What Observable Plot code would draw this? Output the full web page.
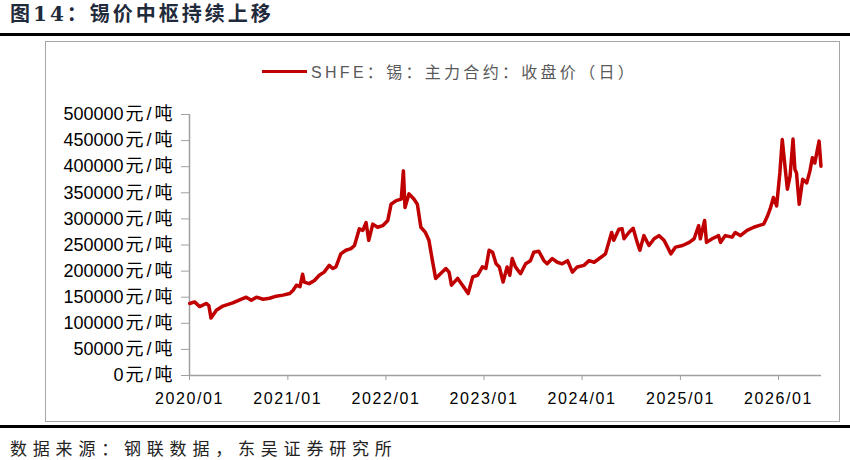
<!DOCTYPE html>
<html><head><meta charset="utf-8">
<script src="https://cdn.jsdelivr.net/npm/d3@7"></script>
<script src="https://cdn.jsdelivr.net/npm/@observablehq/plot@0.6"></script>
<style>
body{margin:0;background:#fff;}
#wrap{position:relative;width:850px;height:460px;overflow:hidden;font-family:"Liberation Sans","Noto Sans CJK SC",sans-serif;}
#title{position:absolute;left:10px;top:4px;font-size:20px;line-height:20px;font-weight:bold;font-family:"DejaVu Serif","Noto Sans CJK SC",serif;color:#1f2a3a;letter-spacing:3px;}
#rule1{position:absolute;left:0;top:33px;width:850px;height:3px;background:#000;}
#box{position:absolute;left:45px;top:41px;width:795px;height:381px;border:1.5px solid #a6a6a6;box-sizing:border-box;}
#rule2{position:absolute;left:0;top:425px;width:850px;height:3px;background:#000;}
#source{position:absolute;left:10px;top:439px;font-size:17px;line-height:17px;letter-spacing:5.8px;color:#222;font-family:"Noto Sans CJK SC",sans-serif;}
#legend{position:absolute;left:262px;top:60px;height:22px;display:flex;align-items:center;}
#legend .sw{width:45px;height:3px;background:#c00000;margin-right:4px;}
#legend .tx{font-size:16px;color:#595959;letter-spacing:3.3px;font-family:"Liberation Sans","Noto Sans CJK SC",sans-serif;}
#chart{position:absolute;left:0;top:0;}
g[aria-label="x-axis tick label"] text{letter-spacing:1.6px;}
</style></head>
<body>
<div id="wrap">
  <div id="title">图14：锡价中枢持续上移</div>
  <div id="rule1"></div>
  <div id="box"></div>
  <div id="legend"><div class="sw"></div><div class="tx">SHFE：锡：主力合约：收盘价（日）</div></div>
  <div id="chart"></div>
  <div id="rule2"></div>
  <div id="source">数据来源：钢联数据，东吴证券研究所</div>
</div>
<script>
const dates = [
"2020-01-02","2020-01-20","2020-02-08","2020-03-03","2020-03-13","2020-03-21","2020-04-10","2020-05-04","2020-06-10","2020-07-30",
"2020-08-18","2020-09-06","2020-10-01","2020-10-25","2020-11-19","2020-12-14","2021-01-08","2021-01-20","2021-02-02","2021-02-15",
"2021-02-25","2021-03-03","2021-03-21","2021-04-10","2021-04-28","2021-05-16","2021-06-04","2021-06-17","2021-06-29","2021-07-17",
"2021-08-05","2021-08-24","2021-09-06","2021-09-24","2021-10-07","2021-10-19","2021-10-29","2021-11-13","2021-12-01","2021-12-20",
"2022-01-08","2022-01-20","2022-02-08","2022-02-27","2022-03-07","2022-03-13","2022-03-28","2022-04-15","2022-04-28","2022-05-11",
"2022-05-28","2022-06-10","2022-06-23","2022-07-05","2022-07-23","2022-08-12","2022-08-24","2022-09-02","2022-09-25","2022-10-13",
"2022-11-03","2022-11-20","2022-12-08","2022-12-26","2023-01-08","2023-01-20","2023-02-02","2023-02-15","2023-02-27","2023-03-13",
"2023-03-28","2023-04-07","2023-04-16","2023-04-28","2023-05-17","2023-06-05","2023-06-23","2023-07-05","2023-07-24","2023-08-12",
"2023-08-24","2023-09-12","2023-10-01","2023-10-19","2023-11-08","2023-11-26","2023-12-14","2024-01-08","2024-01-27","2024-02-15",
"2024-03-10","2024-03-28","2024-04-20","2024-04-28","2024-05-17","2024-05-29","2024-06-05","2024-06-23","2024-07-09","2024-07-24",
"2024-08-03","2024-08-18","2024-09-06","2024-09-25","2024-10-13","2024-11-01","2024-11-14","2024-11-26","2024-12-14","2025-01-09",
"2025-02-03","2025-02-21","2025-03-10","2025-03-16","2025-04-01","2025-04-08","2025-04-29","2025-05-23","2025-05-30","2025-06-17",
"2025-07-12","2025-07-24","2025-08-12","2025-09-06","2025-10-01","2025-10-19","2025-11-07","2025-11-19","2025-12-01","2025-12-13",
"2025-12-25","2026-01-06","2026-01-15","2026-01-25","2026-02-03","2026-02-13","2026-02-24","2026-03-03","2026-03-09","2026-03-19",
"2026-04-01","2026-04-16","2026-04-28","2026-05-07","2026-05-16","2026-06-01","2026-06-08"
];
const prices = [
138000,141000,132000,138000,134000,110000,125000,133000,139000,150000,
144000,150000,146000,148000,152000,154000,157000,163000,173000,170000,
194000,179000,176000,182000,192000,198000,211000,205000,208000,233000,
240000,243000,249000,281000,278000,293000,259000,290000,284000,287000,
297000,328000,335000,338000,392000,322000,348000,338000,328000,284000,
274000,259000,220000,186000,195000,205000,198000,173000,186000,173000,
157000,189000,192000,208000,205000,240000,236000,214000,208000,179000,
208000,192000,224000,208000,195000,214000,220000,236000,238000,220000,
214000,224000,217000,214000,220000,198000,208000,211000,220000,217000,
226000,233000,274000,259000,280000,281000,262000,274000,282000,255000,
240000,268000,249000,262000,268000,259000,246000,233000,246000,249000,
255000,262000,287000,262000,297000,255000,262000,268000,255000,268000,
265000,274000,268000,278000,284000,287000,290000,303000,319000,341000,
325000,388000,452000,401000,357000,382000,453000,395000,388000,328000,
376000,369000,392000,417000,407000,449000,401000
];
const yTicks = [0,50000,100000,150000,200000,250000,300000,350000,400000,450000,500000];
const xTicks = ["2020-01-01","2021-01-01","2022-01-01","2023-01-01","2024-01-01","2025-01-01","2026-01-01"];
const xDomain = ["2020-01-01","2026-06-10"];
const yUnit = "元/吨";

const data = dates.map((d, i) => ({date: new Date(d), price: prices[i]}));
const x0 = new Date(xDomain[0]);

const chart = Plot.plot({
  width: 850, height: 460,
  marginLeft: 189, marginRight: 29, marginTop: 114, marginBottom: 85,
  style: {background: "transparent", color: "#000", fontSize: "16px", fontFamily: "'Liberation Sans','Noto Sans CJK SC',sans-serif"},
  x: {type: "utc", domain: xDomain.map(d => new Date(d))},
  y: {domain: [0, 500000]},
  marks: [
    Plot.axisY({ticks: yTicks, tickFormat: d => d + yUnit, tickSize: 8, tickPadding: 6, fontSize: 18, stroke: "#a0a0a0", fill: "#000", label: null}),
    Plot.axisX({ticks: xTicks.map(d => new Date(d)), tickFormat: d3.utcFormat("%Y/%m"), tickSize: 5, tickPadding: 12, fontSize: 16, stroke: "#a0a0a0", fill: "#000", label: null}),
    Plot.ruleX([x0], {stroke: "#a0a0a0", strokeWidth: 1.5}),
    Plot.ruleY([0], {stroke: "#a0a0a0", strokeWidth: 1.5}),
    Plot.line(data, {x: "date", y: "price", stroke: "#c00000", strokeWidth: 3.5, strokeLinejoin: "round", curve: "linear"})
  ]
});

// split y tick labels: number + spaced unit
d3.select(chart).selectAll('g[aria-label="y-axis tick label"] text').each(function () {
  const t = this.textContent;
  const num = t.slice(0, t.length - yUnit.length);
  const sel = d3.select(this);
  sel.text(null);
  sel.append("tspan").text(num);
  sel.append("tspan").attr("dx", 2).style("letter-spacing", "3px").text(yUnit);
});

document.getElementById("chart").appendChild(chart);
</script>
</body></html>
